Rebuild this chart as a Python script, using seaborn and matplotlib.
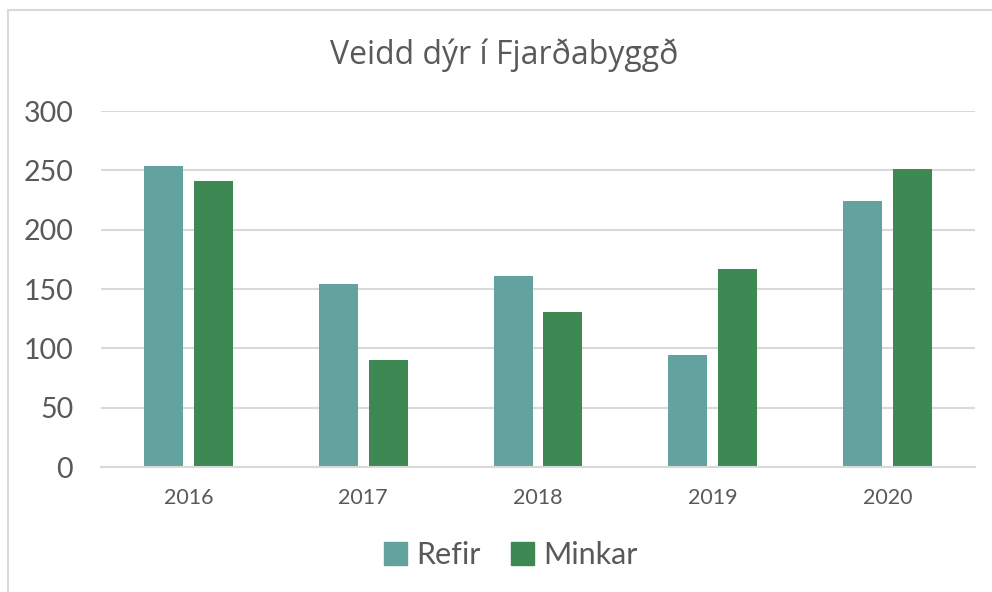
import pandas as pd
import seaborn as sns
import matplotlib.pyplot as plt
from matplotlib.patches import Rectangle

years = ["2016", "2017", "2018", "2019", "2020"]
refir = [254, 154, 161, 94, 224]
minkar = [241, 90, 131, 167, 251]
series = ["Refir", "Minkar"]
colors = ["#63A39F", "#3E8854"]

df = pd.DataFrame({
    "Ár": years * 2,
    "Fjöldi": refir + minkar,
    "Tegund": ["Refir"] * len(years) + ["Minkar"] * len(years),
})

sns.set_style("white")
plt.rcParams["font.family"] = ["Lato", "DejaVu Sans"]
text_grey = "#595959"

fig = plt.figure(figsize=(9.92, 5.92), dpi=100)
ax = fig.add_axes([101 / 992, (592 - 467) / 592, 874 / 992, 356 / 592])

sns.barplot(data=df, x="Ár", y="Fjöldi", hue="Tegund", hue_order=series,
            palette=colors, width=0.572, gap=0.22, linewidth=0,
            saturation=1, ax=ax, legend=False)

ax.set_ylim(0, 300)
ax.set_xlim(-0.5, len(years) - 0.5)
ax.set_yticks(range(0, 301, 50))
ax.yaxis.grid(True, color="#D9D9D9", linewidth=1.5)
ax.set_axisbelow(True)
for s in ["top", "right", "left"]:
    ax.spines[s].set_visible(False)
ax.spines["bottom"].set_color("#D9D9D9")
ax.spines["bottom"].set_linewidth(1.5)
ax.tick_params(axis="y", length=0, pad=20, labelsize=20.5, labelcolor=text_grey)
ax.tick_params(axis="x", length=0, pad=15, labelsize=15.5, labelcolor=text_grey)
ax.set_xlabel("")
ax.set_ylabel("")

fig.text(504 / 992, 1 - 55 / 592, "Veidd dýr í Fjarðabyggð", ha="center", va="center",
         fontsize=23, color=text_grey, family=["Open Sans", "DejaVu Sans"])

handles = [Rectangle((0, 0), 1, 1, color=c) for c in colors]
fig.legend(handles, series, loc="center", bbox_to_anchor=(511 / 992, 1 - 555 / 592),
           ncol=2, frameon=False, fontsize=22, labelcolor=text_grey,
           handlelength=0.75, handleheight=0.75, handletextpad=0.3, columnspacing=1.0)

fig.patches.append(Rectangle((8 / 992, -0.1), 1.2, 1 - 10 / 592 + 0.1,
                             transform=fig.transFigure, fill=False,
                             edgecolor="#D9D9D9", linewidth=1.5))

fig.savefig("out.png", dpi=100)
